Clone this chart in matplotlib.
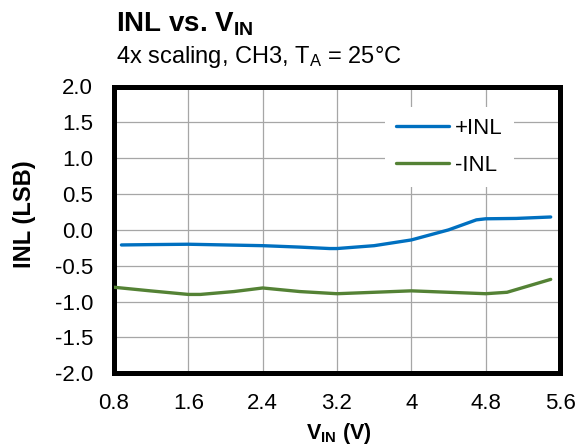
import numpy as np
import matplotlib
matplotlib.use("Agg")
import matplotlib.pyplot as plt

plt.rcParams['font.family'] = ['Liberation Sans', 'DejaVu Sans']
plt.rcParams['mathtext.fontset'] = 'custom'
plt.rcParams['mathtext.rm'] = 'Liberation Sans'
plt.rcParams['mathtext.bf'] = 'Liberation Sans:bold'

# values
vin_pos = [0.88, 1.2, 1.6, 2.0, 2.4, 2.8, 3.12, 3.2, 3.6, 4.0, 4.4, 4.7, 4.8, 5.13, 5.5]
inl_pos = [-0.21, -0.205, -0.20, -0.21, -0.22, -0.24, -0.26, -0.26, -0.22, -0.14, 0.0, 0.14, 0.155, 0.16, 0.18]
vin_neg = [0.8, 1.19, 1.6, 1.73, 2.09, 2.4, 2.8, 3.2, 3.6, 4.0, 4.4, 4.8, 5.03, 5.5]
inl_neg = [-0.80, -0.85, -0.90, -0.90, -0.86, -0.81, -0.86, -0.89, -0.87, -0.85, -0.87, -0.89, -0.87, -0.69]

xticks = [0.8, 1.6, 2.4, 3.2, 4.0, 4.8, 5.6]
xtick_labels = ['0.8', '1.6', '2.4', '3.2', '4', '4.8', '5.6']
yticks = np.arange(-2.0, 2.01, 0.5)

W, H = 577, 445
fig = plt.figure(figsize=(W / 100, H / 100), dpi=100)
left, right, top, bottom = 114, 560, 86.5, 373.3
ax = fig.add_axes([left / W, 1 - bottom / H, (right - left) / W, (bottom - top) / H])

ax.plot(vin_pos, inl_pos, color='#0070C0', lw=2.4, label='+INL', solid_capstyle='round', zorder=3)
ax.plot(vin_neg, inl_neg, color='#548235', lw=2.4, label='-INL', solid_capstyle='round', zorder=3)

ax.set_xlim(0.8, 5.6)
ax.set_ylim(-2.0, 2.0)
ax.set_xticks(xticks)
ax.set_xticklabels(xtick_labels)
ax.set_yticks(yticks)
ax.set_yticklabels(['%.1f' % v for v in yticks])
ax.tick_params(length=0, labelsize=16)
ax.tick_params(axis='x', pad=14)
ax.tick_params(axis='y', pad=15)
ax.grid(True, color='#A6A6A6', lw=0.9)
ax.set_axisbelow(True)
for s in ax.spines.values():
    s.set_linewidth(3.6)
    s.set_color('black')

leg = ax.legend(loc='upper left', bbox_to_anchor=((385 - left) / (right - left), (bottom - 107) / (bottom - top)),
                borderaxespad=0, borderpad=0.5, fontsize=16, handlelength=2.4, handletextpad=0.25,
                labelspacing=0.7, frameon=True, fancybox=False, framealpha=1)
leg.get_frame().set_facecolor('white')
leg.get_frame().set_edgecolor('none')

fig.text(116 / W, 1 - 32 / H, r'INL vs. $\mathbf{V_{IN}}$', fontsize=20, fontweight='bold', va='baseline')
fig.text(116 / W, 1 - 63 / H, r'4x scaling, CH3, $\mathrm{T_A}$ = 25°C', fontsize=17, va='baseline')
fig.text(24 / W, 1 - 214 / H, 'INL (LSB)', fontsize=17, fontweight='bold', rotation=90,
         ha='center', va='center')
fig.text(339 / W, 1 - 438.5 / H, r'$\mathbf{V_{IN}}$ (V)', fontsize=15.5, fontweight='bold',
         ha='center', va='baseline')

fig.savefig('out.png', dpi=100)
